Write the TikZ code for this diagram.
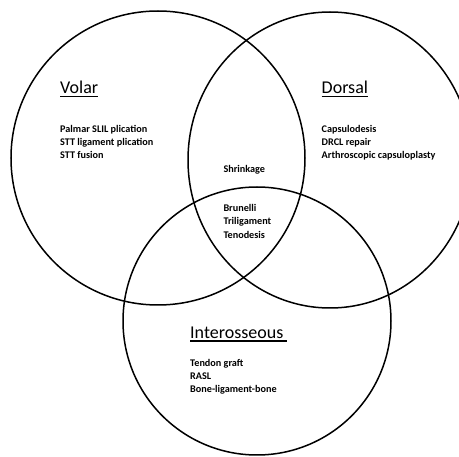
\documentclass[tikz,border=0pt]{standalone}
\usepackage{fontspec}
\setmainfont{Carlito}
\usetikzlibrary{shapes.geometric}
\begin{document}
\begin{tikzpicture}[x=1pt,y=-1pt,
  venn/.style={draw, line width=1.5pt, inner sep=0pt},
  head/.style={anchor=base west, inner sep=0pt, font=\fontsize{18}{20}\selectfont},
  item/.style={anchor=base west, inner sep=0pt, font=\bfseries\fontsize{10.2}{12}\selectfont},
  uline/.style={line width=1.1pt}]
\useasboundingbox (0,0) rectangle (459,457);
\clip (0,0) rectangle (459,457);
\node[venn, circle, minimum size=294pt] (volar) at (158,158) {};
\node[venn, ellipse, minimum width=284pt, minimum height=296pt] (dorsal) at (330,160) {};
\node[venn, circle, minimum size=268pt] (inter) at (257,321) {};
% headers
\node[head] (hv) at (60,93.5) {Volar};
\node[head] (hd) at (321.5,93.5) {Dorsal};
\node[head] (hi) at (190,338.5) {Interosseous};
\draw[uline] ([yshift=-3pt]hv.base west) -- ([yshift=-3pt]hv.base east);
\draw[uline] ([yshift=-3pt]hd.base west) -- ([yshift=-3pt]hd.base east);
\draw[uline] ([yshift=-2.5pt]hi.base west) -- ([yshift=-2.5pt,xshift=3pt]hi.base east);
% volar items
\node[item] (v1) at (60,133) {Palmar SLIL plication};
\node[item] (v2) at (60,146) {STT ligament plication};
\node[item] (v3) at (60,159) {STT fusion};
% dorsal items
\node[item] (d1) at (321.5,133) {Capsulodesis};
\node[item] (d2) at (321.5,146) {DRCL repair};
\node[item] (d3) at (321.5,159) {Arthroscopic capsuloplasty};
% volar-dorsal
\node[item] (s1) at (223.3,172.5) {Shrinkage};
% centre
\node[item] (c1) at (223.3,212) {Brunelli};
\node[item] (c2) at (223.3,225) {Triligament};
\node[item] (c3) at (223.3,238.3) {Tenodesis};
% interosseous items
\node[item] (i1) at (190,366.5) {Tendon graft};
\node[item] (i2) at (190,379.5) {RASL};
\node[item] (i3) at (190,392.5) {Bone-ligament-bone};
\end{tikzpicture}
\end{document}
